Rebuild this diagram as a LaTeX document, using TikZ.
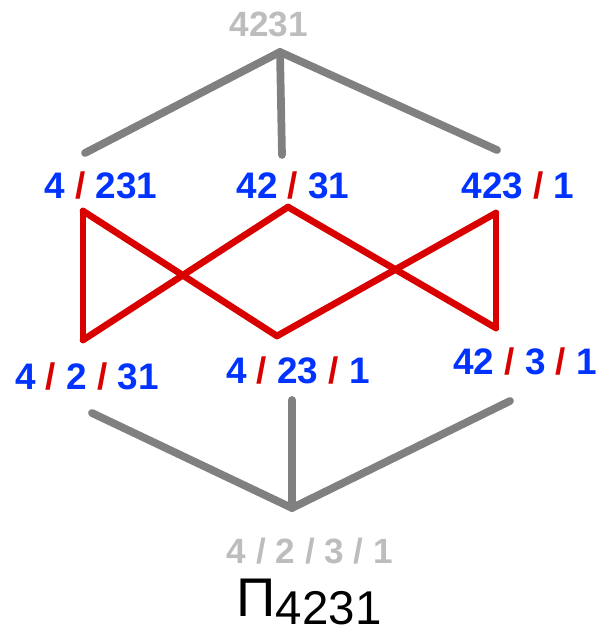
\documentclass[tikz,border=0pt]{standalone}
\usepackage{fontspec}
\setmainfont{Liberation Sans}
\usetikzlibrary{calc}
\usepackage{tkz-euclide}
\definecolor{BlockClr}{rgb}{0,0.2,1}
\definecolor{SlashClr}{rgb}{0.85,0,0}
\definecolor{EdgeClr}{rgb}{0.5,0.5,0.5}
\definecolor{EndClr}{rgb}{0.74,0.74,0.74}
\newcommand{\Sl}{\textcolor{SlashClr}{/}}

\begin{document}
\begin{tikzpicture}[
  blk/.style={inner sep=0pt,text=BlockClr,font=\bfseries\fontsize{21}{25}\selectfont},
  endblk/.style={inner sep=0pt,text=EndClr,font=\bfseries\fontsize{20}{24}\selectfont}]
\useasboundingbox (0,0) rectangle (12,12.72);

\tkzDefPoints{5.60/11.68/T,1.70/9.66/G1,5.64/9.62/G2,9.94/9.72/G3}
\tkzDefPoints{5.84/2.56/S,1.84/4.46/H1,5.84/4.72/H2,10.20/4.70/H3}
\tkzDefPoints{1.66/8.50/A,1.66/5.92/B,5.76/8.58/C,5.54/6.00/D,9.92/8.46/E,9.92/6.16/F}

% cover relations to the ends
\tkzDrawSegments[color=EdgeClr,line width=4.4pt](T,G1 T,G2 T,G3)
\tkzDrawSegments[color=EdgeClr,line width=4.4pt](S,H1 S,H2 S,H3)

% middle ranks
\tkzDrawSegments[color=SlashClr,line width=3.8pt,line join=round](A,B A,D C,B C,F E,D E,F)

\node[endblk] (top) at (5.38,12.24) {4231};
\node[blk] (m1) at (2.02,9.00) {4 \Sl{} 231};
\node[blk] (m2) at (5.86,9.00) {42 \Sl{} 31};
\node[blk] (m3) at (10.36,9.00) {423 \Sl{} 1};
\node[blk] (b1) at (1.74,5.18) {4 \Sl{} 2 \Sl{} 31};
\node[blk] (b2) at (5.96,5.30) {4 \Sl{} 23 \Sl{} 1};
\node[blk] (b3) at (10.50,5.48) {42 \Sl{} 3 \Sl{} 1};
\node[endblk,font=\bfseries\fontsize{20}{24}\selectfont] (bot) at (6.20,1.70) {4 / 2 / 3 / 1};
\node[inner sep=0pt,font=\fontsize{31}{31}\selectfont] (name) at (6.18,0.68)
  {Π\raisebox{-0.15em}{\fontsize{27}{27}\selectfont 4231}};

\end{tikzpicture}
\end{document}
